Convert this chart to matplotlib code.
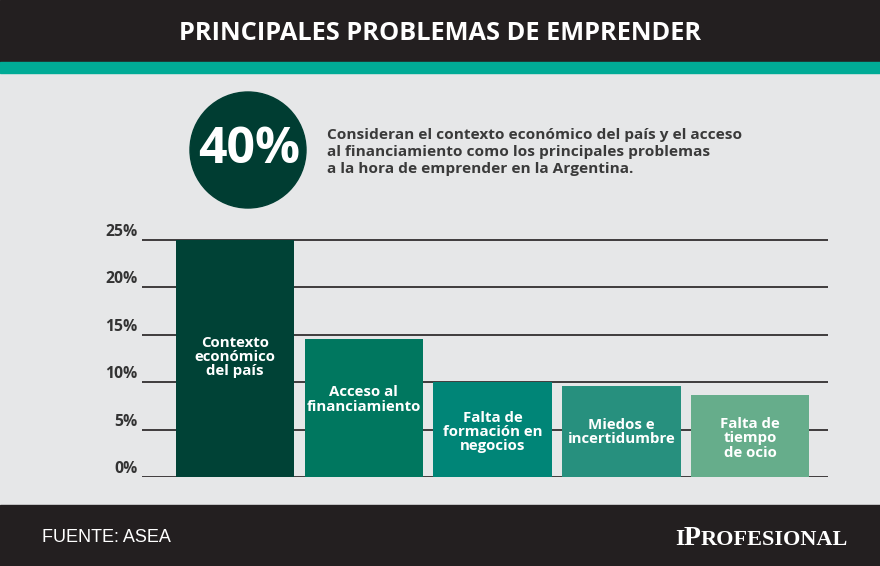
import matplotlib
matplotlib.use('Agg')
import matplotlib.pyplot as plt
from matplotlib.patches import Rectangle, Circle

# datos
categorias = ['Contexto\neconómico\ndel país', 'Acceso al\nfinanciamiento',
              'Falta de\nformación en\nnegocios', 'Miedos e\nincertidumbre',
              'Falta de\ntiempo\nde ocio']
valores = [25.0, 14.6, 10.0, 9.6, 8.7]
ticks_y = [0, 5, 10, 15, 20, 25]
etiquetas_y = ['0%', '5%', '10%', '15%', '20%', '25%']

colores = ['#004236', '#00775f', '#008577', '#27907e', '#66ad8b']
pos_etiqueta = [12.7, 8.2, 4.8, 4.8, 4.1]   # altura del texto dentro de cada barra

titulo = 'PRINCIPALES PROBLEMAS DE EMPRENDER'
destacado = '40%'
texto = ('Consideran el contexto económico del país y el acceso\n'
         'al financiamiento como los principales problemas\n'
         'a la hora de emprender en la Argentina.')
fuente = 'FUENTE: ASEA'

W, H = 880, 566
fig = plt.figure(figsize=(W / 100, H / 100), dpi=100)
fig.patch.set_facecolor('#e6e7e8')

# capa de fondo en pixeles
fondo = fig.add_axes([0, 0, 1, 1])
fondo.set_xlim(0, W)
fondo.set_ylim(H, 0)
fondo.axis('off')
fondo.add_patch(Rectangle((0, 0), W, 62, color='#231f20'))
fondo.add_patch(Rectangle((0, 62), W, 11, color='#00ab96'))
fondo.add_patch(Rectangle((0, 505), W, 61, color='#231f20'))
fondo.add_patch(Circle((248, 150), 58, color='#003d32'))

fondo.text(440, 34, titulo, color='white', fontsize=18.3, fontweight='bold',
           family='Open Sans', ha='center', va='center')
fondo.text(249, 150, destacado, color='white', fontsize=36, fontweight='bold',
           family='Open Sans', ha='center', va='center')
fondo.text(327, 152, texto, color='#3a3a3a', fontsize=11.1, fontweight='bold',
           family='Open Sans', ha='left', va='center', linespacing=1.24)
fondo.text(42, 537, fuente, color='white', fontsize=13,
           family=['Liberation Sans Narrow', 'Liberation Sans'], ha='left', va='center')

# logo en versalitas: se colocan las piezas una tras otra
rend = fig.canvas.get_renderer()
xl = 675
for trozo, tam in [('I', 17), ('P', 20), ('ROFESIONAL', 16)]:
    t = fondo.text(xl, 545, trozo, color='white', fontsize=tam, fontweight='bold',
                   family='Liberation Serif', ha='left', va='baseline')
    bb = t.get_window_extent(renderer=rend)
    xl += bb.width * 0.98

# grafico de barras
izq, der, base, arriba = 141.7, 828.3, 477.3, 230.5
ax = fig.add_axes([izq / W, (H - base) / H, (der - izq) / W, (base - arriba) / H])
ax.set_facecolor('none')
x = range(len(valores))
ax.bar(x, valores, width=0.92, color=colores, zorder=3)
for i, cat in enumerate(categorias):
    ax.text(i, pos_etiqueta[i], cat, color='white', fontsize=10.8, fontweight='bold',
            family='Open Sans', ha='center', va='center', linespacing=1.02, zorder=4)

ax.set_xlim(-0.7265, 4.608)
ax.set_ylim(0, 26)
ax.set_yticks(ticks_y)
ax.set_yticklabels(etiquetas_y, fontsize=11.3, fontweight='bold', color='#333333',
                   family='Open Sans')
for lab in ax.get_yticklabels():
    lab.set_verticalalignment('bottom')
ax.tick_params(axis='y', length=0, pad=3)
ax.set_xticks([])
ax.grid(axis='y', color='#231f20', linewidth=1.2, zorder=1)
for s in ax.spines.values():
    s.set_visible(False)

fig.savefig('out.png', dpi=100, facecolor=fig.get_facecolor())
